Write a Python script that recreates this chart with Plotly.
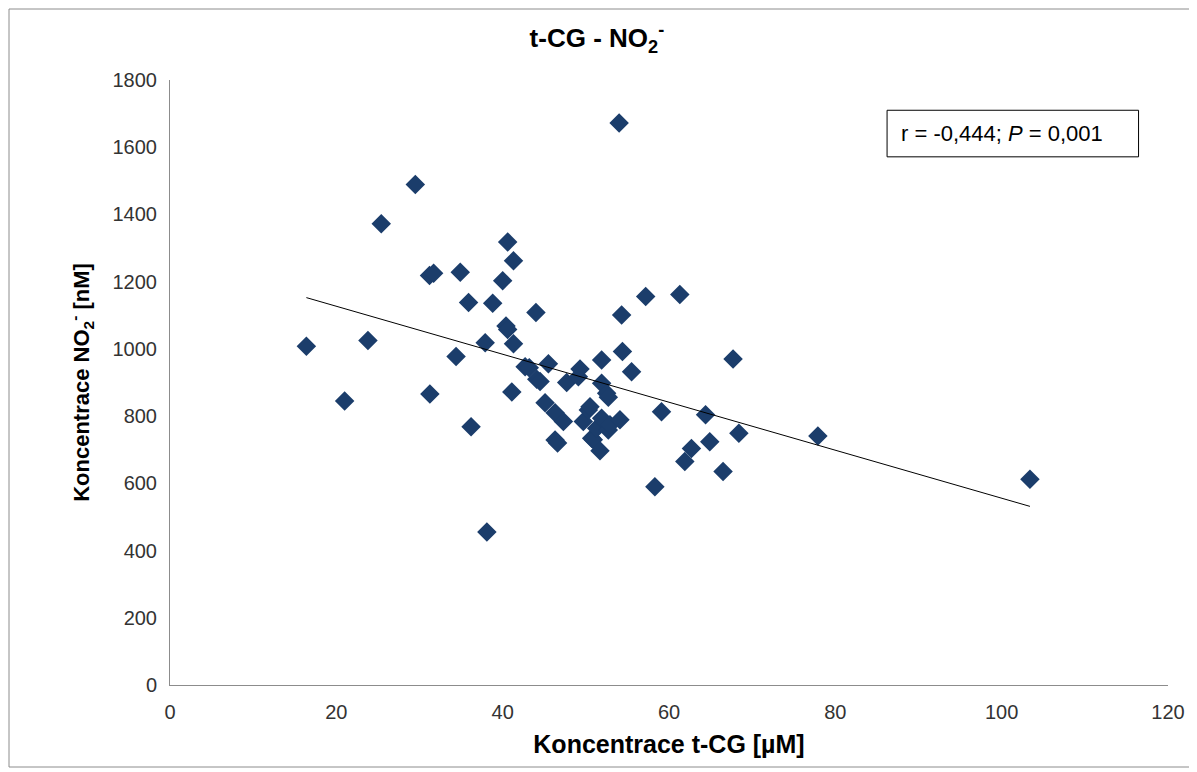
import numpy as np
import plotly.graph_objects as go

# Data
tcg = [16.4, 21.0, 23.8, 25.4, 29.5, 31.2, 31.7, 31.25, 34.4, 34.9, 35.9, 36.2,
       37.9, 38.1, 38.8, 40.0, 40.4, 40.6, 40.6, 41.1, 41.3, 41.3, 42.7, 43.2,
       44.0, 44.1, 44.5, 45.1, 45.5, 46.3, 46.3, 46.6, 47.3, 47.7, 49.1, 49.3,
       49.7, 50.3, 50.5, 50.7, 50.9, 51.3, 51.7, 51.9, 51.9, 51.9, 52.5, 52.7,
       52.7, 52.9, 54.0, 54.1, 54.3, 54.4, 55.5, 57.2, 58.3, 59.1, 61.3, 61.9,
       62.7, 64.4, 64.9, 66.5, 67.7, 68.4, 77.9, 103.4]
no2 = [1008, 845, 1025, 1372, 1489, 1218, 1225, 866, 977, 1228, 1138, 768,
       1018, 455, 1136, 1203, 1068, 1058, 1318, 872, 1262, 1015, 947, 944,
       1108, 910, 903, 840, 956, 810, 729, 720, 784, 900, 917, 940,
       784, 818, 828, 734, 730, 764, 697, 967, 898, 794, 868, 856,
       759, 774, 1672, 789, 1101, 992, 932, 1156, 590, 813, 1162, 665,
       704, 804, 724, 635, 970, 749, 741, 612]

x_ticks = [0, 20, 40, 60, 80, 100, 120]
y_ticks = [0, 200, 400, 600, 800, 1000, 1200, 1400, 1600, 1800]
stats_text = "r = -0,444; <i>P</i> = 0,001"

xa = np.array(tcg)
ya = np.array(no2)
slope, intercept = np.polyfit(xa, ya, 1)
line_x = np.array([xa.min(), xa.max()])
line_y = slope * line_x + intercept

FONT = "Liberation Sans, Arial, sans-serif"
W, H = 1197, 772
L, R, T, B = 162, 37, 72, 95
PW, PH = W - L - R, H - T - B

fig = go.Figure()
fig.add_trace(go.Scatter(
    x=tcg, y=no2, mode="markers",
    marker=dict(symbol="diamond", size=15, color="#1B3D6B",
                line=dict(width=0)),
    showlegend=False, hoverinfo="x+y"))
fig.add_trace(go.Scatter(
    x=line_x, y=line_y, mode="lines",
    line=dict(color="#000000", width=1),
    showlegend=False, hoverinfo="skip"))

fig.update_layout(
    width=W, height=H,
    margin=dict(l=L, r=R, t=T, b=B),
    paper_bgcolor="white", plot_bgcolor="white",
    font=dict(family=FONT, color="#000000"),
    title=dict(text="<b>t-CG - NO<sub>2</sub><sup>-</sup></b>",
               x=0.492, xanchor="center", y=1 - 30 / H, yanchor="middle",
               font=dict(size=26, family=FONT, color="#000000")),
    xaxis=dict(range=[0, 120], tickvals=x_ticks, ticks="", showgrid=False,
               zeroline=False, showline=True, linecolor="#8C8C8C", linewidth=1,
               tickfont=dict(size=20, color="#333333", family=FONT),
               ticklabelstandoff=9,
               title=dict(text="<b>Koncentrace t-CG [µM]</b>",
                          font=dict(size=25, family=FONT), standoff=13)),
    yaxis=dict(range=[0, 1800], tickvals=y_ticks, ticks="", showgrid=False,
               zeroline=False, showline=True, linecolor="#8C8C8C", linewidth=1,
               tickfont=dict(size=20, color="#333333", family=FONT),
               ticklabelstandoff=8,
               title=dict(text="<b>Koncentrace NO<sub>2</sub><sup>-</sup> [nM]</b>",
                          font=dict(size=22, family=FONT), standoff=16)),
)

# statistics box
fig.add_shape(type="rect", xref="paper", yref="paper",
              x0=0.7185, x1=0.9705, y0=0.873, y1=0.950,
              line=dict(color="#000000", width=1), fillcolor="white")
fig.add_annotation(xref="paper", yref="paper", x=0.7305, y=0.912,
                   xanchor="left", yanchor="middle", showarrow=False,
                   text=stats_text, font=dict(size=22, family=FONT, color="#000000"))

# outer chart border (in figure pixel terms converted to paper fractions)
fig.add_shape(type="rect", xref="paper", yref="paper",
              x0=(1 - L) / PW, x1=(1184 - L) / PW,
              y0=(H - B - 759) / PH, y1=(H - B - 1) / PH,
              line=dict(color="#8C8C8C", width=1), layer="below")

fig.write_html("out.html")
